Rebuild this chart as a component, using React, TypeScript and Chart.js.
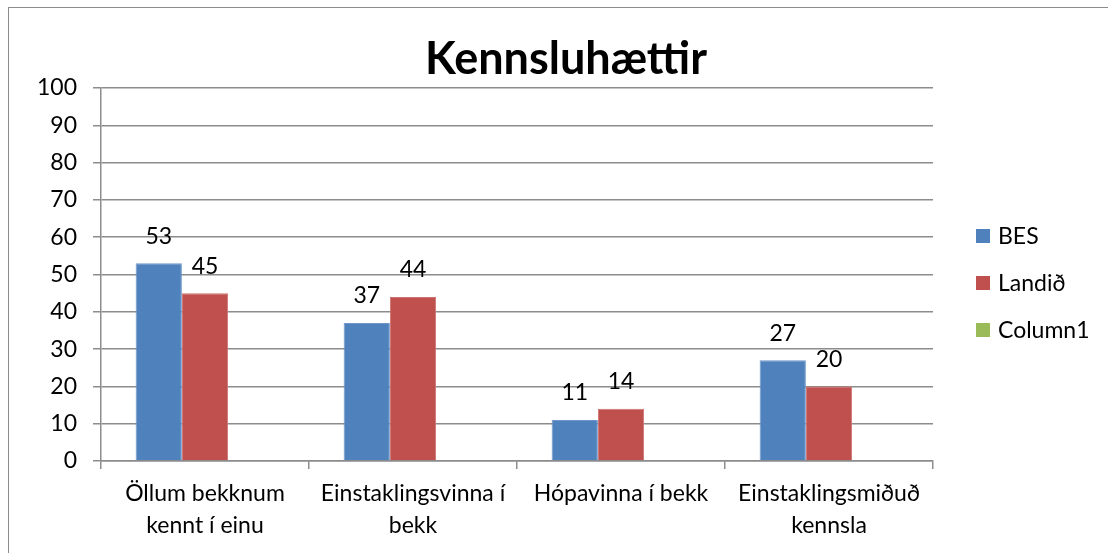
import React, { useEffect, useRef } from "react";
import { Chart, registerables } from "chart.js";

Chart.register(...registerables);

const categories: string[][] = [
  ["Öllum bekknum", "kennt í einu"],
  ["Einstaklingsvinna í", "bekk"],
  ["Hópavinna í bekk"],
  ["Einstaklingsmiðuð", "kennsla"],
];
const seriesNames = ["BES", "Landið", "Column1"];
const besValues = [53, 37, 11, 27];
const landidValues = [45, 44, 14, 20];
const column1Values: (number | null)[] = [null, null, null, null];
const seriesColors = ["#4F81BD", "#C0504D", "#9BBB59"];
const seriesEdges = ["#6F97CB", "#CD7371", "#B0C97C"];
const yMin = 0;
const yMax = 100;
const yStep = 10;
const titleText = "Kennsluhættir";

const FONT = "Lato, 'Open Sans', sans-serif";
const GRID = "#8c8c8c";
const TXT = 23;

const valueLabels = {
  id: "valueLabels",
  afterDatasetsDraw(chart: any) {
    const ctx = chart.ctx;
    ctx.save();
    ctx.font = `${TXT}px ${FONT}`;
    ctx.fillStyle = "#000";
    ctx.textAlign = "center";
    ctx.textBaseline = "middle";
    chart.data.datasets.forEach((ds: any, i: number) => {
      const meta = chart.getDatasetMeta(i);
      meta.data.forEach((el: any, j: number) => {
        const v = ds.data[j];
        if (v === null || v === undefined) return;
        ctx.fillText(String(v), el.x, el.y - 27);
      });
    });
    ctx.restore();
  },
};

const sideLegend = {
  id: "sideLegend",
  afterDraw(chart: any) {
    const ctx = chart.ctx;
    const area = chart.chartArea;
    const n = chart.data.datasets.length;
    const rowGap = 47;
    const midY = (area.top + area.bottom) / 2 + 8.5;
    ctx.save();
    ctx.font = `${TXT}px ${FONT}`;
    ctx.textBaseline = "middle";
    ctx.textAlign = "left";
    chart.data.datasets.forEach((ds: any, i: number) => {
      const y = midY + (i - (n - 1) / 2) * rowGap;
      const x = area.right + 43;
      ctx.fillStyle = ds.backgroundColor;
      ctx.fillRect(x, y - 7, 14, 14);
      ctx.fillStyle = "#000";
      ctx.fillText(ds.label, x + 22, y + 1);
    });
    ctx.restore();
  },
};

export default function App() {
  const ref = useRef<HTMLCanvasElement | null>(null);
  useEffect(() => {
    if (!ref.current) return;
    const data = [besValues, landidValues, column1Values];
    const chart = new Chart(ref.current, {
      type: "bar",
      data: {
        labels: categories,
        datasets: seriesNames.map((name, i) => ({
          label: name,
          data: data[i],
          backgroundColor: seriesColors[i],
          borderColor: seriesEdges[i],
          borderWidth: 1,
          barPercentage: 1,
          categoryPercentage: 0.667,
        })),
      },
      options: {
        animation: false,
        responsive: false,
        devicePixelRatio: 1,
        layout: { padding: { left: 0, right: 0, top: 0, bottom: 0 } },
        plugins: {
          legend: { display: false },
          tooltip: { enabled: false },
          title: {
            display: true,
            text: titleText,
            color: "#000",
            font: { family: FONT, size: 45, weight: "bold" },
            padding: { top: 32, bottom: 2 },
          },
        },
        scales: {
          x: {
            offset: true,
            grid: {
              display: true,
              drawOnChartArea: false,
              drawTicks: true,
              tickLength: 8,
              color: GRID,
              lineWidth: 1.5,
              offset: true,
            },
            border: { display: true, color: GRID, width: 1.5 },
            ticks: {
              color: "#000",
              font: { family: FONT, size: TXT, lineHeight: 1.4 },
              padding: 8,
              maxRotation: 0,
              autoSkip: false,
            },
            afterFit: (s: any) => {
              s.height = 92;
            },
          },
          y: {
            min: yMin,
            max: yMax,
            position: "left",
            grid: {
              color: GRID,
              lineWidth: 1.5,
              drawTicks: true,
              tickLength: 8,
            },
            border: { display: true, color: GRID, width: 1.5 },
            ticks: {
              stepSize: yStep,
              color: "#000",
              font: { family: FONT, size: TXT },
              padding: 16,
            },
            afterFit: (s: any) => {
              s.width = 101;
            },
          },
          y2: {
            type: "linear",
            position: "right",
            display: true,
            grid: { display: false, drawTicks: false },
            border: { display: false },
            ticks: { display: false },
            afterFit: (s: any) => {
              s.width = 199;
            },
          },
        },
      },
      plugins: [valueLabels, sideLegend],
    } as any);
    return () => chart.destroy();
  }, []);

  return (
    <div
      style={{
        position: "fixed",
        left: 0,
        top: 0,
        width: 1108,
        height: 553,
        overflow: "hidden",
        background: "#fff",
      }}
    >
      <div
        style={{
          position: "absolute",
          left: 8,
          top: 7,
          width: 1300,
          height: 800,
          border: "1.5px solid #8c8c8c",
          boxSizing: "border-box",
        }}
      />
      <canvas
        ref={ref}
        width={1132}
        height={553}
        style={{ position: "absolute", left: 0, top: 0, width: 1132, height: 553 }}
      />
    </div>
  );
}
